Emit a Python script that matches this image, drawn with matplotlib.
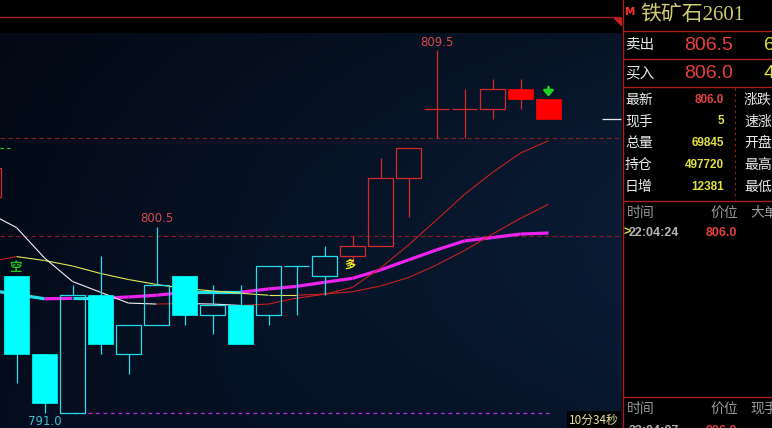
import numpy as np
import matplotlib.pyplot as plt
from matplotlib.patches import Rectangle, Polygon

plt.rcParams['font.family'] = ['Noto Sans CJK SC', 'DejaVu Sans']

# candle index (-1 is the bar cut off at the left edge)
idx = list(range(-1, 20))
opens = [802.0, 798.0, 794.0, 791.0, 797.0, 794.0, 795.5, 798.0, 796.0, 796.5, 796.0,
         798.5, 798.0, 799.0, 799.5, 803.0, 806.5, 806.5, 806.5, 807.5, 807.0]
highs = [803.5, 798.0, 794.0, 797.5, 799.0, 795.5, 800.5, 798.0, 797.5, 797.5, 798.5,
         798.5, 799.5, 800.0, 804.0, 804.5, 809.5, 807.5, 808.0, 808.0, 807.0]
lows = [802.0, 792.5, 791.0, 791.0, 794.0, 793.0, 795.5, 795.5, 795.0, 794.5, 795.5,
        796.0, 797.0, 798.5, 799.5, 801.0, 805.0, 805.0, 806.0, 806.5, 806.0]
closes = [803.5, 794.0, 791.5, 797.0, 794.5, 795.5, 797.5, 796.0, 796.5, 794.5, 798.5,
          798.5, 799.0, 799.5, 803.0, 804.5, 806.5, 806.5, 807.5, 807.0, 806.0]

# moving averages at each candle
ma_fast = [801.2, 800.45, 798.9, 797.7, 797.15, 796.6, 796.55, 796.58, 796.55, 796.48, 796.55,
           796.85, 797.05, 797.4, 798.39, 799.56, 800.84, 802.14, 803.26, 804.25, 804.88]
ma_mid = [798.7, 798.97, 798.77, 798.49, 798.11, 797.8, 797.55, 797.34, 797.22, 797.1, 797.0,
          797.0, 797.06, 797.18, 797.47, 797.9, 798.54, 799.28, 800.12, 800.92, 801.64]
ma_slow = [797.27, 797.04, 796.82, 796.84, 796.84, 796.91, 797.0, 797.15, 797.15, 797.15, 797.32,
           797.45, 797.66, 797.86, 798.29, 798.8, 799.31, 799.77, 799.94, 800.12, 800.17]

# trade signals
signal_idx = [0, 12]
signal_txt = ['空', '多']
ref_levels = [805.0, 800.0]
prev_line = 804.5
timer_txt = '10分34秒'

# quote panel
title = '铁矿石2601'
book_labels = ['卖出', '买入']
book_prices = ['806.5', '806.0']
book_vols = ['6', '4']
quote_labels = ['最新', '现手', '总量', '持仓', '日增']
quote_values = ['806.0', '5', '69845', '497720', '12381']
quote_right = ['涨跌', '速涨', '开盘', '最高', '最低']
tick_header = ['时间', '价位', '大单']
tick_rows = [('22:04:24', '806.0')]
tick_header2 = ['时间', '价位', '现手']
tick_rows2 = [('22:04:07', '806.0')]

CYAN = '#00ffff'
CYAN_L = '#22dcec'
RED = '#ff0000'
RED_L = '#d42a2a'
BAND = '#a81c1c'

W, H = 772, 428
fig = plt.figure(figsize=(W / 100, H / 100), dpi=100, facecolor='black')

ax = fig.add_axes([0, 0, 622 / W, (H - 33) / H])
xlo, xhi = -16.5 / 28, (622 - 16.5) / 28
ylo, yhi = 790.23, 810.37
ax.set_xlim(xlo, xhi)
ax.set_ylim(ylo, yhi)
ax.axis('off')

# background gradient
gx = np.linspace(0, 1, 300)[None, :]
gy = np.linspace(0, 1, 200)[:, None]
left = np.array([3, 9, 20]) / 255
right = np.array([9, 25, 46]) / 255
t = (gx ** 0.9) * (0.55 + 0.45 * np.sin(np.pi * np.clip(gy * 0.9 + 0.1, 0, 1)))
bg = left[None, None, :] + (right - left)[None, None, :] * t[:, :, None]
bg = bg + (np.array([1, 4, 10]) / 255)[None, None, :] * gy[:, :, None]
ax.imshow(np.clip(bg, 0, 1), extent=[xlo, xhi, ylo, yhi], aspect='auto', zorder=0, origin='upper')

# reference levels
for lv in ref_levels:
    ax.axhline(lv, color='#8a1c1c', lw=0.8, ls=(0, (4, 3)), zorder=1)
ax.hlines(prev_line, xlo, xlo + 0.46, color='#2ad02a', lw=0.8, ls=(0, (3, 3)), zorder=1)

# trend state per candle from signals
state = []
cur = '多'
for i in idx:
    if i in signal_idx:
        cur = signal_txt[signal_idx.index(i)]
    state.append(cur)

# low line
k_low = int(np.argmin(lows))
ax.hlines(lows[k_low], idx[k_low] + 1, idx[-1], color='#c030e0', lw=0.9, ls=(0, (3, 3)), zorder=1)


def seg_line(vals, up_col, dn_col, lw):
    for k in range(len(vals) - 1):
        col = up_col if vals[k + 1] > vals[k] else dn_col
        ax.plot([idx[k], idx[k + 1]], [vals[k], vals[k + 1]], color=col, lw=lw,
                solid_capstyle='butt', zorder=2)


seg_line(ma_slow, '#ee22ee', '#22e0e8', 2.3)
seg_line(ma_mid, '#c82020', '#e6e65a', 0.8)
seg_line(ma_fast, '#c82020', '#f0f0f0', 0.8)

# candles
w = 25 / 28
for i, o, h, l, c, s in zip(idx, opens, highs, lows, closes, state):
    line_c = CYAN_L if s == '空' else RED_L
    fill_c = CYAN if s == '空' else RED
    top, bot = max(o, c), min(o, c)
    if c > o:
        ax.add_patch(Rectangle((i - w / 2, bot), w, top - bot, fill=False, ec=line_c, lw=0.9, zorder=3))
        if h > top:
            ax.vlines(i, top, h, color=line_c, lw=0.9, zorder=3)
        if l < bot:
            ax.vlines(i, l, bot, color=line_c, lw=0.9, zorder=3)
    elif c < o:
        ax.vlines(i, l, h, color=line_c, lw=0.9, zorder=3)
        ax.add_patch(Rectangle((i - w / 2, bot), w, top - bot, fc=fill_c, ec=fill_c, lw=0.5, zorder=4))
    else:
        ax.vlines(i, l, h, color=line_c, lw=0.9, zorder=3)
        ax.hlines(o, i - w / 2, i + w / 2, color=line_c, lw=0.9, zorder=3)

# high / low labels
short_k = [k for k, s in enumerate(state) if s == '空']
k_hi1 = short_k[int(np.argmax([highs[k] for k in short_k]))]
k_hi2 = int(np.argmax(highs))
for k in (k_hi1, k_hi2):
    ax.annotate(f'{highs[k]:.1f}', (idx[k], highs[k]), xytext=(0, 5.5), textcoords='offset points',
                ha='center', va='center', color='#d84848', fontsize=8.5, family='DejaVu Sans', zorder=5)
ax.annotate(f'{lows[k_low]:.1f}', (idx[k_low], lows[k_low]), xytext=(0, -6), textcoords='offset points',
            ha='center', va='center', color='#3cc0d0', fontsize=8.5, family='DejaVu Sans', zorder=5)

# signal markers
for i, s in zip(signal_idx, signal_txt):
    k = idx.index(i)
    if s == '空':
        ax.annotate(s, (i, highs[k]), xytext=(-1, 5.5), textcoords='offset points', ha='center',
                    va='center', color='#22c022', fontsize=9, fontweight='bold', zorder=5)
    else:
        ax.annotate(s, (i, min(opens[k], closes[k])), xytext=(-2, -1), textcoords='offset points',
                    ha='center', va='top', color='#f0f020', fontsize=8, fontweight='bold', zorder=5)

# down arrow over last bar
ax.annotate('', xy=(idx[-1], highs[-1] + 0.12), xytext=(idx[-1], highs[-1] + 0.62),
            arrowprops=dict(arrowstyle='-|>,head_width=0.3,head_length=0.35', color='#22d022', lw=1.8,
                            shrinkA=0, shrinkB=0),
            zorder=5)
# last price marker
ax.hlines(closes[-1], 20.9, xhi - 0.05, color='#e8e8e8', lw=0.9, zorder=5)

# overlay in pixel space
ov = fig.add_axes([0, 0, 1, 1])
ov.set_xlim(0, W)
ov.set_ylim(H, 0)
ov.axis('off')

ov.plot([0, 620], [17, 17], color=BAND, lw=1)
ov.add_patch(Polygon([[614, 18], [621, 18], [621, 25]], closed=True, color='#c02020'))
ov.text(594, 420, timer_txt, ha='center', va='center', color='#e6e6a0', fontsize=8.5,
        bbox=dict(fc='black', ec='none', pad=1.5))

# right panel frame
ov.plot([622.5, 622.5], [0, H], color=BAND, lw=1)
for yy in (30.5, 58.5, 87, 201, 397):
    ov.plot([622.5, W], [yy, yy], color=BAND, lw=1)
ov.plot([734.5, 734.5], [88, 200], color=BAND, lw=0.8, ls=(0, (2, 3)))

ov.text(630, 12, 'M', ha='center', va='center', color='#ff3030', fontsize=7.5, fontweight='bold',
        family='DejaVu Sans')
ov.text(640, 15.5, title, ha='left', va='center', color='#cccc70', fontsize=15,
        family=['Liberation Serif', 'Noto Sans CJK SC'])

for yy, lab, pr, vol in zip((45, 73), book_labels, book_prices, book_vols):
    ov.text(625, yy, lab, ha='left', va='center', color='#e8e8e8', fontsize=10.5)
    ov.text(684, yy, pr, ha='left', va='center', color='#e84040', fontsize=14, family='Liberation Sans')
    ov.text(764, yy, vol, ha='left', va='center', color='#e0e040', fontsize=14, family='Liberation Sans')

for k, (lab, val, rl) in enumerate(zip(quote_labels, quote_values, quote_right)):
    yy = 99.5 + k * 21.8
    ov.text(625, yy, lab, ha='left', va='center', color='#e8e8e8', fontsize=10)
    ov.text(724, yy, val, ha='right', va='center', color='#e04040' if k == 0 else '#e0e040',
            fontsize=8.5, fontweight='bold', family='Liberation Sans')
    ov.text(744, yy, rl, ha='left', va='center', color='#e8e8e8', fontsize=10)

for xx, hd in zip((627, 710, 750), tick_header):
    ov.text(xx, 213, hd, ha='left', va='center', color='#9a9a9a', fontsize=10)
for k, (tm, pr) in enumerate(tick_rows):
    yy = 233 + k * 20
    ov.text(623, yy, '>', ha='left', va='center', color='#e0e040', fontsize=9, fontweight='bold',
            family='Liberation Sans')
    ov.text(629, yy, tm, ha='left', va='center', color='#b4b4b4', fontsize=9, fontweight='bold',
            family='Liberation Sans')
    ov.text(706, yy, pr, ha='left', va='center', color='#e04040', fontsize=9, fontweight='bold',
            family='Liberation Sans')

for xx, hd in zip((627, 710, 750), tick_header2):
    ov.text(xx, 409, hd, ha='left', va='center', color='#9a9a9a', fontsize=10)
for k, (tm, pr) in enumerate(tick_rows2):
    yy = 431 + k * 20
    ov.text(629, yy, tm, ha='left', va='center', color='#b4b4b4', fontsize=9, fontweight='bold',
            family='Liberation Sans')
    ov.text(706, yy, pr, ha='left', va='center', color='#e04040', fontsize=9, fontweight='bold',
            family='Liberation Sans')

fig.savefig('out.png', dpi=100, facecolor='black')
